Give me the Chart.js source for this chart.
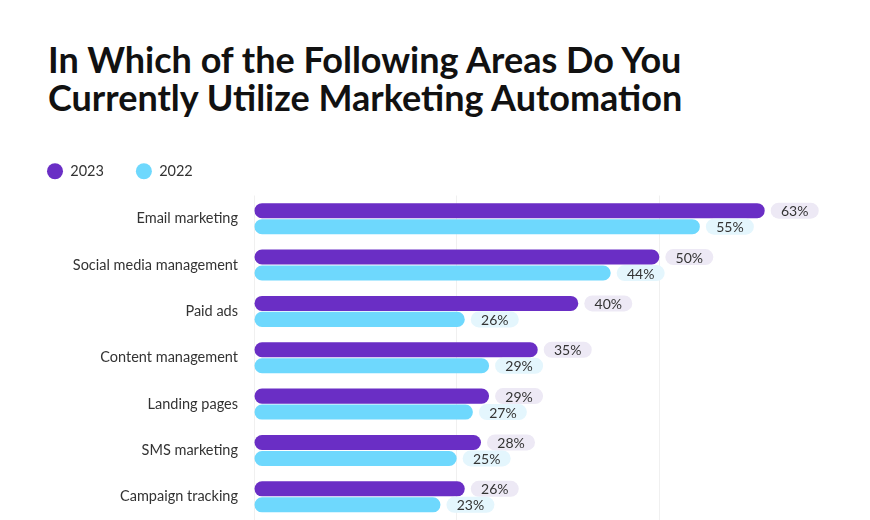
<!DOCTYPE html>
<html>
<head>
<meta charset="utf-8">
<title>Marketing Automation Areas</title>
<script src="https://cdn.jsdelivr.net/npm/chart.js@4.4.1/dist/chart.umd.min.js"></script>
<style>
    html, body { margin: 0; padding: 0; background: #fff; }
    #wrap { position: relative; width: 870px; height: 520px; overflow: hidden; }
    #title {
        position: absolute; left: 48px; top: 40px; margin: 0;
        font: 700 36px/38px Lato, sans-serif; color: #111;
    }
    #areasChart { position: absolute; left: 0; top: 0; }
</style>
</head>
<body>
<div id="wrap">
    <h1 id="title">In Which of the Following Areas Do You<br>Currently Utilize Marketing Automation</h1>
    <canvas id="areasChart" width="870" height="520"></canvas>
</div>
<script>
const categories = [
    'Email marketing',
    'Social media management',
    'Paid ads',
    'Content management',
    'Landing pages',
    'SMS marketing',
    'Campaign tracking'
];
const values2023 = [63, 50, 40, 35, 29, 28, 26];
const values2022 = [55, 44, 26, 29, 27, 25, 23];
const xTicks = [0, 25, 50, 75];

// push the plot a little below the legend
const legendGap = {
    id: 'legendGap',
    beforeInit(chart) {
        const fit = chart.legend.fit;
        chart.legend.fit = function() {
            fit.call(this);
            this.height += 7;
        };
    }
};

// rounded value badges at the end of each bar
const valueBadges = {
    id: 'valueBadges',
    afterDatasetsDraw(chart) {
        const ctx = chart.ctx;
        ctx.save();
        ctx.font = '14px Lato, sans-serif';
        ctx.textAlign = 'center';
        ctx.textBaseline = 'middle';
        chart.data.datasets.forEach(function(ds, i) {
            chart.getDatasetMeta(i).data.forEach(function(bar, j) {
                const w = 48, h = 16;
                const left = bar.x + 6;
                ctx.fillStyle = ds.badgeColor;
                ctx.beginPath();
                ctx.roundRect(left, bar.y - h / 2, w, h, h / 2);
                ctx.fill();
                ctx.fillStyle = '#333';
                ctx.fillText(ds.data[j] + '%', left + w / 2, bar.y + 1);
            });
        });
        ctx.restore();
    }
};

const ctx = document.getElementById('areasChart').getContext('2d');
const areasChart = new Chart(ctx, {
    type: 'bar',
    data: {
        labels: categories,
        datasets: [{
            label: '2023',
            data: values2023,
            backgroundColor: '#6a2ec5',
            badgeColor: '#ede9f5',
            borderWidth: 0,
            borderRadius: 8,
            borderSkipped: false,
            categoryPercentage: 0.69,
            barPercentage: 0.94
        }, {
            label: '2022',
            data: values2022,
            backgroundColor: '#6ed8fd',
            badgeColor: '#e4f6fd',
            borderWidth: 0,
            borderRadius: 8,
            borderSkipped: false,
            categoryPercentage: 0.69,
            barPercentage: 0.94
        }]
    },
    options: {
        indexAxis: 'y',
        responsive: false,
        animation: false,
        layout: {
            padding: { left: 15, right: 8, top: 132, bottom: 0 }
        },
        scales: {
            x: {
                min: xTicks[0],
                max: xTicks[xTicks.length - 1],
                afterBuildTicks: function(scale) {
                    scale.ticks = xTicks.map(function(v) { return { value: v }; });
                },
                afterFit: function(scale) { scale.height = 0; },
                ticks: { display: false },
                border: { display: false },
                grid: {
                    drawTicks: false,
                    color: function(c) {
                        return c.tick && c.tick.value === 75 ? 'rgba(0,0,0,0)' : '#f0f0f0';
                    }
                }
            },
            y: {
                afterFit: function(scale) {
                    scale.width = 239;
                    scale.paddingTop = 0;
                    scale.paddingBottom = 0;
                },
                border: { display: false },
                grid: { display: false, drawTicks: false },
                ticks: {
                    padding: 16,
                    color: '#333',
                    font: { family: 'Lato', size: 14.5 }
                }
            }
        },
        plugins: {
            legend: {
                position: 'top',
                align: 'start',
                labels: {
                    usePointStyle: true,
                    pointStyle: 'circle',
                    pointStyleWidth: 16,
                    boxHeight: 11.3,
                    padding: 32,
                    color: '#333',
                    font: { family: 'Lato', size: 14.5 }
                }
            },
            tooltip: { enabled: false }
        }
    },
    plugins: [legendGap, valueBadges]
});
</script>
</body>
</html>
